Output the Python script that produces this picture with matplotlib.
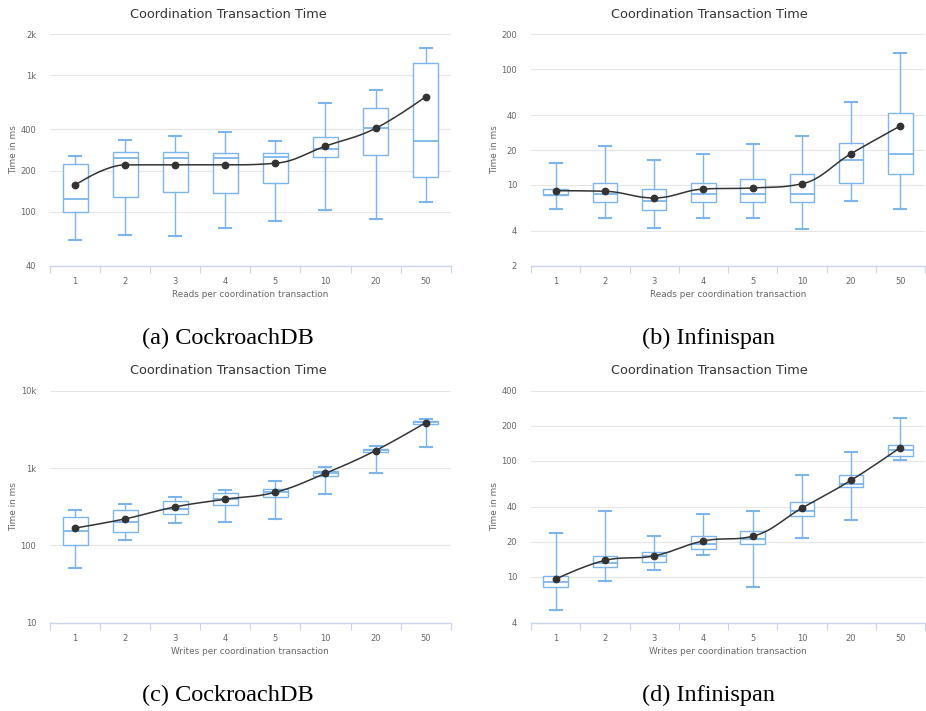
import numpy as np
import matplotlib.pyplot as plt
from matplotlib.ticker import FixedLocator, NullFormatter

categories = ["1", "2", "3", "4", "5", "10", "20", "50"]

# (a) CockroachDB - reads per coordination transaction
a_low = [62, 67, 66, 76, 85, 103, 88, 118]
a_q1 = [99, 127, 139, 137, 161, 252, 261, 180]
a_med = [123, 245, 249, 245, 252, 287, 408, 331]
a_q3 = [222, 273, 273, 268, 268, 352, 577, 1240]
a_high = [255, 335, 358, 386, 331, 625, 784, 1584]
a_mean = [156, 220, 220, 220, 226, 302, 408, 696]

# (b) Infinispan - reads per coordination transaction
b_low = [6.2, 5.2, 4.2, 5.2, 5.2, 4.15, 7.2, 6.2]
b_q1 = [8.1, 7.1, 6.1, 7.1, 7.1, 7.1, 10.3, 12.3]
b_med = [8.2, 8.25, 7.2, 8.25, 8.25, 8.25, 16.3, 18.4]
b_q3 = [9.2, 10.3, 9.2, 10.3, 11.3, 12.3, 23.2, 41.5]
b_high = [15.4, 21.5, 16.3, 18.4, 22.4, 26.4, 52, 137]
b_mean = [8.9, 8.8, 7.7, 9.2, 9.4, 10.2, 18.6, 32.3]

# (c) CockroachDB - writes per coordination transaction
c_low = [51, 116, 196, 200, 221, 457, 861, 1906]
c_q1 = [101, 150, 254, 336, 422, 796, 1643, 3784]
c_med = [156, 202, 301, 405, 499, 861, 1708, 3975]
c_q3 = [232, 292, 374, 475, 546, 933, 1760, 4095]
c_high = [284, 349, 426, 530, 686, 1040, 1925, 4390]
c_mean = [168, 221, 316, 397, 489, 861, 1692, 3890]

# (d) Infinispan - writes per coordination transaction
d_low = [5.1, 9.2, 11.3, 15.3, 8.2, 21.5, 30.7, 101]
d_q1 = [8.1, 12.05, 13.3, 17.2, 19.1, 33.5, 59, 110]
d_med = [9.05, 13.1, 15.1, 19.2, 21.3, 37, 63.1, 124]
d_q3 = [10.1, 15.2, 16.2, 22.3, 24.6, 44, 75, 136]
d_high = [23.7, 37, 22.6, 34.6, 37, 75.5, 118, 232]
d_mean = [9.5, 13.8, 15.1, 20.3, 22.3, 39.0, 67.9, 130]

BOX = "#7cb5ec"
MEAN = "#333333"
GRID = "#e6e6e6"
AXIS = "#ccd6eb"
LABEL = "#666666"


def hc_spline(xs, ys, smoothing=1.5, n=25):
    # same control point rule as the Highcharts spline series
    xs = list(map(float, xs))
    ys = list(map(float, ys))
    cont = []
    for i in range(len(xs)):
        if i == 0 or i == len(xs) - 1:
            cont.append((xs[i], ys[i], xs[i], ys[i]))
            continue
        px, py = xs[i], ys[i]
        lx, ly = xs[i - 1], ys[i - 1]
        nx, ny = xs[i + 1], ys[i + 1]
        d = smoothing + 1
        lcx = (smoothing * px + lx) / d
        lcy = (smoothing * py + ly) / d
        rcx = (smoothing * px + nx) / d
        rcy = (smoothing * py + ny) / d
        corr = 0
        if rcx != lcx:
            corr = (rcy - lcy) * (rcx - px) / (rcx - lcx) + py - rcy
        lcy += corr
        rcy += corr
        if lcy > ly and lcy > py:
            lcy = max(ly, py)
            rcy = 2 * py - lcy
        elif lcy < ly and lcy < py:
            lcy = min(ly, py)
            rcy = 2 * py - lcy
        if rcy > ny and rcy > py:
            rcy = max(ny, py)
            lcy = 2 * py - rcy
        elif rcy < ny and rcy < py:
            rcy = min(ny, py)
            lcy = 2 * py - rcy
        cont.append((lcx, lcy, rcx, rcy))
    t = np.linspace(0, 1, n)[1:]
    out_x, out_y = [xs[0]], [ys[0]]
    for i in range(1, len(xs)):
        p0 = np.array([xs[i - 1], ys[i - 1]])
        p1 = np.array([cont[i - 1][2], cont[i - 1][3]])
        p2 = np.array([cont[i][0], cont[i][1]])
        p3 = np.array([xs[i], ys[i]])
        for tt in t:
            p = ((1 - tt) ** 3) * p0 + 3 * ((1 - tt) ** 2) * tt * p1 \
                + 3 * (1 - tt) * tt ** 2 * p2 + tt ** 3 * p3
            out_x.append(p[0])
            out_y.append(p[1])
    return np.array(out_x), np.array(out_y)


def fmt_tick(v):
    if v >= 1000:
        return "%dk" % (v // 1000)
    return "%g" % v


def panel(rect, low, q1, med, q3, high, mean, ylim, yticks, xlabel,
          title_x, title_y, caption, cap_y, ylab_x):
    ax = fig.add_axes(rect)
    pos = np.arange(len(categories))
    stats = []
    for i in range(len(categories)):
        stats.append(dict(whislo=low[i], q1=q1[i], med=med[i], q3=q3[i],
                          whishi=high[i], fliers=[]))
    ax.bxp(stats, positions=pos, widths=0.5, capwidths=0.24,
           showfliers=False, patch_artist=True,
           boxprops=dict(facecolor="white", edgecolor=BOX, linewidth=1.0),
           whiskerprops=dict(color=BOX, linewidth=1.0),
           capprops=dict(color=BOX, linewidth=1.5),
           medianprops=dict(color=BOX, linewidth=1.3), zorder=2)
    sx, sy = hc_spline(pos, np.log10(mean))
    ax.plot(sx, 10 ** sy, color=MEAN, lw=1.1, zorder=3, solid_capstyle="round")
    ax.plot(pos, mean, "o", color=MEAN, ms=4.6, zorder=4)

    ax.set_yscale("log")
    ax.set_ylim(*ylim)
    ax.set_xlim(-0.5, len(categories) - 0.5)
    ax.yaxis.set_major_locator(FixedLocator(yticks))
    ax.yaxis.set_minor_locator(FixedLocator([]))
    ax.set_yticklabels([fmt_tick(v) for v in yticks])
    ax.yaxis.set_minor_formatter(NullFormatter())
    ax.tick_params(axis="y", length=0, pad=10, labelsize=6, labelcolor=LABEL)
    ax.grid(axis="y", color=GRID, lw=0.8, zorder=0)
    ax.set_axisbelow(True)

    ax.set_xticks(pos)
    ax.set_xticklabels(categories)
    ax.set_xticks(np.arange(-0.5, len(categories)), minor=True)
    ax.tick_params(axis="x", which="major", length=0, pad=8, labelsize=6,
                   labelcolor=LABEL)
    ax.tick_params(axis="x", which="minor", length=5, width=0.8, color=AXIS)

    for s in ["top", "right", "left"]:
        ax.spines[s].set_visible(False)
    ax.spines["bottom"].set_color(AXIS)
    ax.spines["bottom"].set_linewidth(1.0)

    ax.set_xlabel(xlabel, fontsize=6.4, color=LABEL, labelpad=3)
    ax.set_ylabel("Time in ms", fontsize=6.4, color=LABEL, va="center")
    x0 = rect[0] * 926
    ax.yaxis.set_label_coords((ylab_x - x0) / (rect[2] * 926), 0.5)

    fig.text(title_x / 926, 1 - title_y / 711, "Coordination Transaction Time",
             ha="center", va="center", fontsize=9.3, color="#333333")
    fig.text(title_x / 926, 1 - cap_y / 711, caption, ha="center",
             va="baseline", fontsize=17.5,
             family=["Liberation Serif", "DejaVu Serif"], color="black")
    return ax


fig = plt.figure(figsize=(9.26, 7.11), dpi=100)

top_rect_y = 1 - 265.7 / 711
top_h = (265.7 - 34.3) / 711
bot_rect_y = 1 - 622.7 / 711
bot_h = (622.7 - 391) / 711
lw_ = 50 / 926
lwid = 400.7 / 926
rw_ = 531 / 926
rwid = (925 - 531) / 926

panel([lw_, top_rect_y, lwid, top_h], a_low, a_q1, a_med, a_q3, a_high, a_mean,
      (40, 2000), [40, 100, 200, 400, 1000, 2000],
      "Reads per coordination transaction", 228, 14, "(a) CockroachDB", 344, 14)
panel([rw_, top_rect_y, rwid, top_h], b_low, b_q1, b_med, b_q3, b_high, b_mean,
      (2, 200), [2, 4, 10, 20, 40, 100, 200],
      "Reads per coordination transaction", 709, 14, "(b) Infinispan", 344, 495)
panel([lw_, bot_rect_y, lwid, bot_h], c_low, c_q1, c_med, c_q3, c_high, c_mean,
      (10, 10000), [10, 100, 1000, 10000],
      "Writes per coordination transaction", 228, 371, "(c) CockroachDB", 701, 14)
panel([rw_, bot_rect_y, rwid, bot_h], d_low, d_q1, d_med, d_q3, d_high, d_mean,
      (4, 400), [4, 10, 20, 40, 100, 200, 400],
      "Writes per coordination transaction", 709, 371, "(d) Infinispan", 701, 495)

fig.savefig("out.png", dpi=100)
